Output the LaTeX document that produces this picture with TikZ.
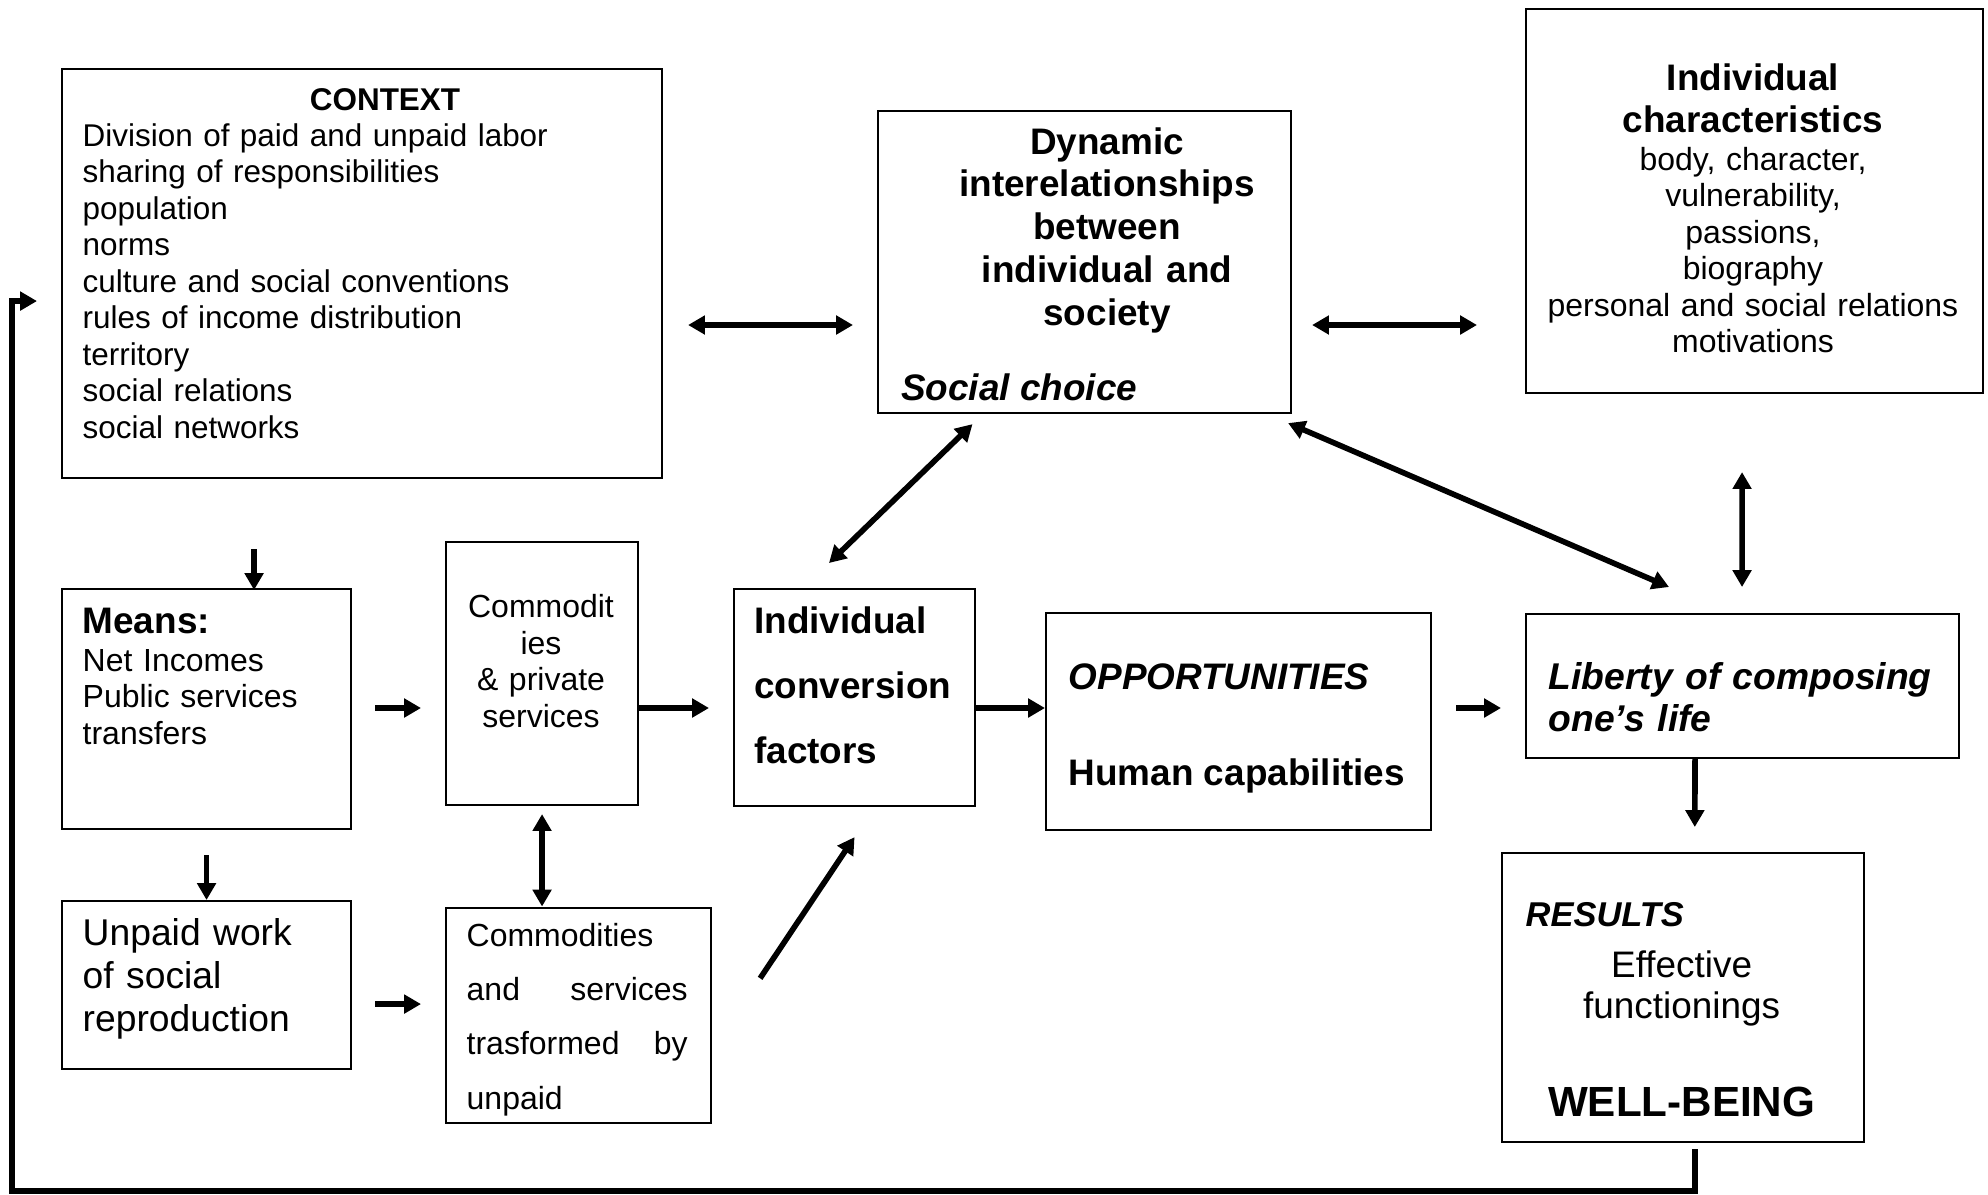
\documentclass[tikz,border=0pt]{standalone}
\usepackage{fontspec}
\setmainfont{Liberation Sans}
\usetikzlibrary{arrows.meta}

\def\mysmallfont{\fontsize{9.1}{10.4}\selectfont}
\def\myctxfont{\fontsize{8.95}{10.4}\selectfont}
\def\mybigfont{\fontsize{10.5}{12.2}\selectfont}

\tikzset{
  box/.style = {draw, line width=0.6pt, anchor=north west, inner sep=0pt},
  txt/.style = {inner sep=0pt, anchor=base west, align=left},
  ctxt/.style = {inner sep=0pt, anchor=base, align=center},
  arr/.style = {line width=1.6pt, -{Triangle[length=4.8pt,width=5.2pt]}},
  darr/.style = {line width=1.6pt, {Triangle[length=4.8pt,width=5.2pt]}-{Triangle[length=4.8pt,width=5.2pt]}}
}

\begin{document}
\begin{tikzpicture}
\useasboundingbox (0,0) rectangle (19.88,-11.94);

% top row
\node[box, minimum width=6.00cm, minimum height=4.09cm] (context) at (0.61,-0.68) {};
\node[ctxt, font=\bfseries\myctxfont] (contexttitle) at (3.85,-1.10) {CONTEXT};
\node[txt, font=\myctxfont, text width=5.5cm] (contextbody) at (0.82,-1.46) {Division of paid and unpaid labor\\ sharing of responsibilities\\ population\\ norms\\ culture and social conventions\\ rules of income distribution\\ territory\\ social relations\\ social networks};

\node[box, minimum width=4.13cm, minimum height=3.02cm] (dynamic) at (8.77,-1.10) {};
\node[ctxt, font=\bfseries\mybigfont, text width=4cm] (dynamictxt) at (11.07,-1.54) {Dynamic\\ interelationships\\ between\\ individual and\\ society};
\node[txt, font=\bfseries\itshape\mybigfont] (socialchoice) at (9.006,-4.00) {Social choice};

\node[box, minimum width=4.57cm, minimum height=3.84cm] (indchar) at (15.25,-0.08) {};
\node[ctxt, font=\bfseries\mybigfont, text width=4.4cm] (indchartitle) at (17.53,-0.90) {Individual\\ characteristics};
\node[ctxt, font=\mysmallfont, text width=4.4cm] (indcharbody) at (17.53,-1.70) {body, character,\\ vulnerability,\\ passions,\\ biography\\ personal and social relations\\ motivations};

% middle row
\node[box, minimum width=2.89cm, minimum height=2.40cm] (means) at (0.61,-5.88) {};
\node[txt, font=\bfseries\mybigfont] (meanstitle) at (0.82,-6.33) {Means:};
\node[txt, font=\mysmallfont, text width=2.6cm] (meansbody) at (0.82,-6.71) {Net Incomes\\ Public services\\ transfers};

\node[box, minimum width=1.92cm, minimum height=2.63cm] (commod) at (4.45,-5.41) {};
\node[ctxt, font=\mysmallfont, text width=1.8cm] (commodtxt) at (5.41,-6.176) {Commodit\\ ies\\ \& private\\ services};

\node[box, minimum width=2.41cm, minimum height=2.17cm] (conv) at (7.33,-5.88) {};
\node[txt, font=\bfseries\fontsize{10.5}{18.5}\selectfont, text width=2.2cm] (convtxt) at (7.536,-6.33) {Individual\\ conversion\\ factors};

\node[box, minimum width=3.85cm, minimum height=2.17cm] (opport) at (10.45,-6.12) {};
\node[txt, font=\bfseries\itshape\mybigfont] (opporttitle) at (10.68,-6.89) {OPPORTUNITIES};
\node[txt, font=\bfseries\mybigfont] (capab) at (10.68,-7.85) {Human capabilities};

\node[box, minimum width=4.33cm, minimum height=1.445cm] (liberty) at (15.25,-6.125) {};
\node[txt, font=\bfseries\itshape\fontsize{10.6}{11.9}\selectfont, text width=4.1cm] (libertytxt) at (15.48,-6.896) {Liberty of composing\\ one’s life};

% bottom row
\node[box, minimum width=2.89cm, minimum height=1.68cm] (unpaid) at (0.61,-9.00) {};
\node[txt, font=\fontsize{10.6}{12.2}\selectfont, text width=2.6cm] (unpaidtxt) at (0.82,-9.456) {Unpaid work\\ of social\\ reproduction};

\node[box, minimum width=2.65cm, minimum height=2.155cm] (commod2) at (4.45,-9.065) {};
\begin{scope}
\clip (commod2.north west) rectangle (commod2.south east);
\node[txt, font=\fontsize{9.1}{15.5}\selectfont, text width=2.21cm] (commod2txt) at (4.66,-9.46) {Commodities\\ and\hfill services\\ trasformed\hfill by\\ unpaid};
\end{scope}

\node[box, minimum width=3.615cm, minimum height=2.885cm] (results) at (15.01,-8.52) {};
\node[txt, font=\bfseries\itshape\fontsize{9.8}{11}\selectfont] (resultstitle) at (15.25,-9.265) {RESULTS};
\node[ctxt, font=\fontsize{10.5}{11.8}\selectfont, text width=3.2cm] (effective) at (16.816,-9.77) {Effective\\ functionings};
\node[ctxt, font=\bfseries\fontsize{12}{14}\selectfont] (wellbeing) at (16.816,-11.16) {WELL-BEING};

% connectors
\coordinate (toprow) at (0,-3.25);
\coordinate (midrow) at (0,-7.08);
\draw[darr, shorten <=0.25cm, shorten >=0.24cm] (context.east |- toprow) -- (dynamic.west |- toprow); %context to dynamic
\draw[darr, shorten <=0.20cm, shorten >=0.48cm] (dynamic.east |- toprow) -- (indchar.west |- toprow); %dynamic to indchar
\draw[darr] ([xshift=0.955cm,yshift=-0.10cm]dynamic.south west) -- ([xshift=0.96cm,yshift=0.25cm]conv.north west); %dynamic to conv
\draw[darr] ([xshift=-0.04cm,yshift=-0.09cm]dynamic.south east) -- ([xshift=1.44cm,yshift=0.255cm]liberty.north west); %dynamic to liberty
\draw[darr] ([xshift=-0.125cm,yshift=-0.78cm]indchar.south) -- ([xshift=-0.005cm,yshift=0.255cm]liberty.north); %indchar to liberty
\draw[arr] ([xshift=-1.08cm,yshift=-0.70cm]context.south) -- ([xshift=0.475cm,yshift=-0.02cm]means.north); %context to means
\draw[arr] ([yshift=-0.25cm]means.south) -- (unpaid.north); %means to unpaid
\draw[arr, shorten <=0.23cm, shorten >=0.24cm] (means.east |- midrow) -- (commod.west |- midrow); %means to commod
\draw[arr, shorten >=0.24cm] (commod.east |- midrow) -- (conv.west |- midrow); %commod to conv
\draw[arr] (conv.east |- midrow) -- (opport.west |- midrow); %conv to opport
\draw[arr, shorten <=0.24cm, shorten >=0.24cm] (opport.east |- midrow) -- (liberty.west |- midrow); %opport to liberty
\draw[darr, shorten <=0.08cm] (commod.south) -- (commod.south |- commod2.north); %commod to commod2
\draw[arr, shorten <=0.23cm, shorten >=0.24cm] ([yshift=-0.19cm]unpaid.east) -- ([yshift=-0.19cm]unpaid.east -| commod2.west); %unpaid to commod2
\draw[arr] ([xshift=0.48cm,yshift=0.37cm]commod2.east) -- ([yshift=-0.30cm]conv.south); %commod2 to conv
\draw[arr] ([xshift=-0.475cm]liberty.south) -- ([xshift=0.12cm,yshift=0.25cm]results.north); %liberty to results
\draw[arr] ([xshift=0.12cm,yshift=-0.065cm]results.south) |- (0.12,-11.91) |- ([xshift=-0.24cm,yshift=-0.275cm]context.west); %results back to context
\end{tikzpicture}
\end{document}
